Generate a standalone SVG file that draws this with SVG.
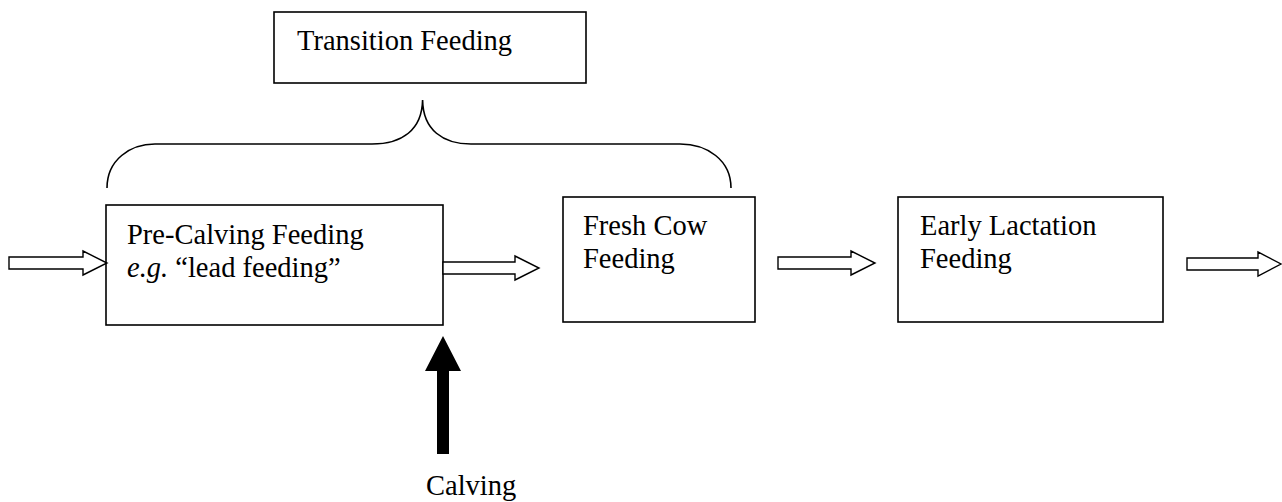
<svg xmlns="http://www.w3.org/2000/svg" width="1282" height="502" viewBox="0 0 1282 502">
<style>
.box{fill:#fff;stroke:#000;stroke-width:1.6}
.lbl{font-family:"Liberation Serif","Times New Roman",serif;font-size:28.5px;fill:#000}
.blk{fill:#fff;stroke:#000;stroke-width:1.4;stroke-linejoin:miter}
.brace{fill:none;stroke:#000;stroke-width:1.6}
</style>
<rect width="1282" height="502" fill="#fff"/>
<g id="transition">
<rect class="box" x="274" y="12" width="312" height="71"/>
<text class="lbl" x="297" y="50">Transition Feeding</text>
</g>
<g id="brace">
<path class="brace" d="M107,188 C107,160 130,144 155,144 L372,144 C402,144 422,130 422.6,100 C423,130 443,144 471,144 L680,144 C707,144 731,160 731,188"/>
</g>
<g id="precalving">
<rect class="box" x="106" y="205" width="337" height="120"/>
<text class="lbl" x="127" y="244">Pre-Calving Feeding</text>
<text class="lbl" x="127" y="277"><tspan font-style="italic">e.g.</tspan> “lead feeding”</text>
</g>
<g id="freshcow">
<rect class="box" x="563" y="197" width="192" height="125"/>
<text class="lbl" x="583" y="235">Fresh Cow</text>
<text class="lbl" x="583" y="268">Feeding</text>
</g>
<g id="earlylactation">
<rect class="box" x="898" y="197" width="265" height="125"/>
<text class="lbl" x="920" y="235">Early Lactation</text>
<text class="lbl" x="920" y="268">Feeding</text>
</g>
<g id="calving">
<text class="lbl" x="426" y="495">Calving</text>
</g>
<g id="connectors">
<polygon class="blk" points="9,257 83,257 83,251 107,263 83,275 83,269 9,269"/>
<polygon class="blk" points="443,262 515,262 515,256 539,268 515,280 515,274 443,274"/>
<polygon class="blk" points="778,257 851,257 851,251 875,263 851,275 851,269 778,269"/>
<polygon class="blk" points="1187,258 1258,258 1258,252 1281,264 1258,276 1258,270 1187,270"/>
<polygon fill="#000" points="443,336 461,371 449,371 449,454 437,454 437,371 425,371"/>
</g>
</svg>
